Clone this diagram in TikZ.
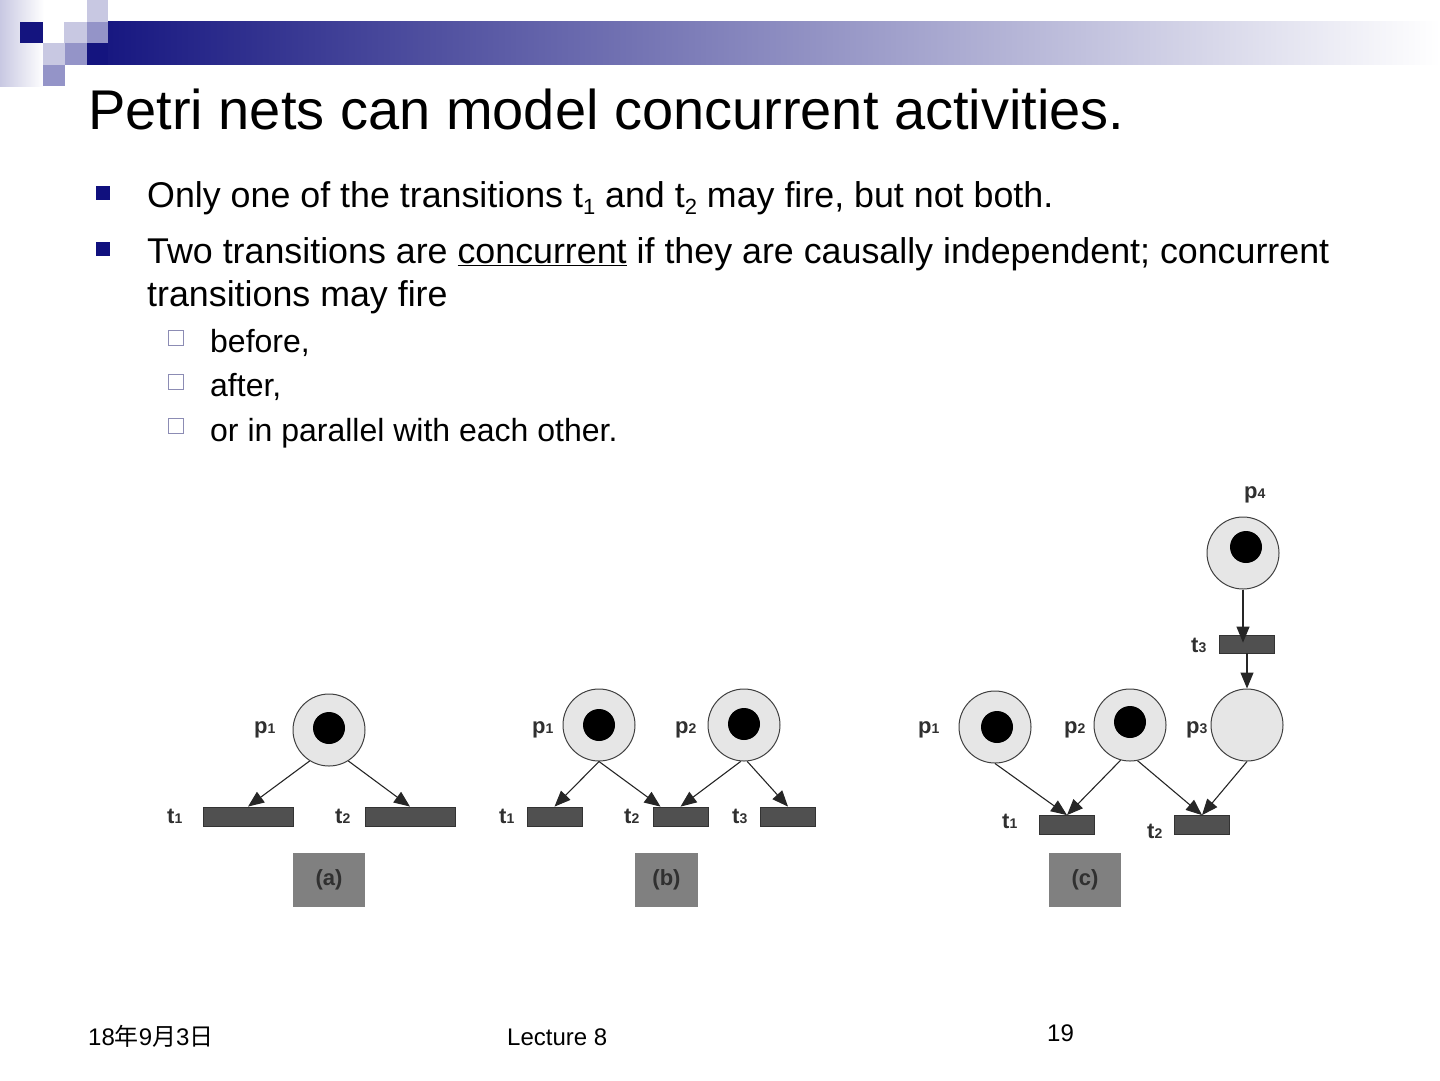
\documentclass[tikz,border=0pt]{standalone}
\usepackage{fontspec}
\setmainfont{Liberation Sans}
\newfontfamily\cjk{Noto Sans CJK SC}
\usetikzlibrary{arrows.meta}
\definecolor{navybar}{HTML}{14147F}
\definecolor{lav}{HTML}{C8C8E2}
\definecolor{lavmid}{HTML}{9494C8}
\definecolor{bulletnavy}{HTML}{10107E}
\definecolor{subbox}{HTML}{8C8CB4}
\definecolor{placefill}{HTML}{E6E6E6}
\definecolor{transfill}{HTML}{505050}
\definecolor{labgray}{HTML}{303030}
\newcommand\lsub[2]{#1{\fontsize{14}{14}\selectfont #2}}
\begin{document}
\begin{tikzpicture}[x=1pt,y=-1pt,
  place/.style={circle,draw=black!75,fill=placefill,line width=1pt,minimum size=72pt,inner sep=0},
  tokn/.style={circle,fill=black,minimum size=32pt,inner sep=0},
  trans/.style={rectangle,draw=black!80,fill=transfill,line width=0.8pt,inner sep=0,minimum height=19pt},
  arc/.style={-{Triangle[length=16pt,width=13pt]},line width=1.1pt,draw=black!85},
  lbl/.style={font=\fontsize{22}{22}\selectfont\bfseries,text=labgray,inner sep=0,anchor=base west},
  capbox/.style={fill=black!50,minimum width=72pt,minimum height=54pt,inner sep=0,font=\fontsize{22}{22}\selectfont\bfseries,text=labgray},
  txt/.style={inner sep=0,anchor=base west},
  mainb/.style={fill=bulletnavy,minimum size=14pt,inner sep=0},
  subb/.style={draw=subbox,line width=1.2pt,minimum size=15pt,inner sep=0},
]
\useasboundingbox (0,0) rectangle (1440,1080);
% header decoration
\shade[left color=lav,right color=white] (0,0) rectangle (44,86);
\shade[left color=navybar,right color=white] (87,21) rectangle (1440,64);
\fill[navybar] (20,22) rectangle (43,43);
\fill[lav] (87,0) rectangle (108,22);
\fill[lav] (64,22) rectangle (87,43);
\fill[lavmid] (87,22) rectangle (108,43);
\fill[lav] (43,43) rectangle (65,65);
\fill[lavmid] (65,43) rectangle (87,65);
\fill[navybar] (87,43) rectangle (108,65);
\fill[lavmid] (43,65) rectangle (65,86);

% title and bullets
\node[txt,font=\fontsize{56}{56}\selectfont] (title) at (88,129) {Petri nets can model concurrent activities.};
\node[mainb] (b1) at (103,193) {};
\node[txt,font=\fontsize{35.8}{36}\selectfont] (l1) at (147,207) {Only one of the transitions t\raisebox{-7pt}{\fontsize{22}{22}\selectfont 1} and t\raisebox{-7pt}{\fontsize{22}{22}\selectfont 2} may fire, but not both.};
\node[mainb] (b2) at (103,249) {};
\node[txt,font=\fontsize{35.8}{36}\selectfont] (l2) at (147,263) {Two transitions are \underline{concurrent} if they are causally independent; concurrent};
\node[txt,font=\fontsize{35.8}{36}\selectfont] (l3) at (147,306) {transitions may fire};
\node[subb] (s1) at (176,338) {};
\node[txt,font=\fontsize{32}{32}\selectfont] (l4) at (210,352) {before,};
\node[subb] (s2) at (176,382) {};
\node[txt,font=\fontsize{32}{32}\selectfont] (l5) at (210,396) {after,};
\node[subb] (s3) at (176,426) {};
\node[txt,font=\fontsize{32}{32}\selectfont] (l6) at (210,441) {or in parallel with each other.};

% (a)
\node[place] (ap1) at (329,730) {};
\node[tokn] (atk) at (329,728) {};
\node[trans,minimum width=90pt] (at1) at (248,816.5) {};
\node[trans,minimum width=90pt] (at2) at (410,816.5) {};
\node[lbl] (apl) at (254,733) {\lsub{p}{1}};
\node[lbl] (at1l) at (167,823) {\lsub{t}{1}};
\node[lbl] (at2l) at (335,823) {\lsub{t}{2}};
\draw[arc] (ap1.-122) -- (at1.north);
\draw[arc] (ap1.-58) -- (at2.north);
\node[capbox] (capa) at (329,880) {(a)};

% (b)
\node[place] (bp1) at (599,725) {};
\node[tokn] (btk1) at (599,725) {};
\node[place] (bp2) at (744,725) {};
\node[tokn] (btk2) at (744,724) {};
\node[trans,minimum width=55pt] (bt1) at (554.5,816.5) {};
\node[trans,minimum width=55pt] (bt2) at (680.5,816.5) {};
\node[trans,minimum width=55pt] (bt3) at (788,816.5) {};
\node[lbl] (bp1l) at (532,733) {\lsub{p}{1}};
\node[lbl] (bp2l) at (675,733) {\lsub{p}{2}};
\node[lbl] (bt1l) at (499,823) {\lsub{t}{1}};
\node[lbl] (bt2l) at (624,823) {\lsub{t}{2}};
\node[lbl] (bt3l) at (732,823) {\lsub{t}{3}};
\draw[arc] (bp1.south) -- (bt1.north);
\draw[arc] (bp1.south) -- ([xshift=-20pt]bt2.north);
\draw[arc] (bp2.-95) -- (bt2.north);
\draw[arc] (bp2.-85) -- (bt3.north);
\node[capbox,minimum width=63pt] (capb) at (666.5,880) {(b)};

% (c)
\node[place] (cp1) at (995,727) {};
\node[tokn] (ctk1) at (997,727) {};
\node[place] (cp2) at (1130,725) {};
\node[tokn] (ctk2) at (1130,722) {};
\node[place] (cp3) at (1247,725) {};
\node[place] (cp4) at (1243,553) {};
\node[tokn] (ctk4) at (1246,547) {};
\node[trans,minimum width=55pt] (ct1) at (1067,825) {};
\node[trans,minimum width=55pt] (ct2) at (1202,825) {};
\node[trans,minimum width=55pt,minimum height=18pt] (ct3) at (1247,644) {};
\node[lbl] (cp1l) at (918,733) {\lsub{p}{1}};
\node[lbl] (cp2l) at (1064,733) {\lsub{p}{2}};
\node[lbl] (cp3l) at (1186,733) {\lsub{p}{3}};
\node[lbl] (cp4l) at (1244,498) {\lsub{p}{4}};
\node[lbl] (ct1l) at (1002,828) {\lsub{t}{1}};
\node[lbl] (ct2l) at (1147,838) {\lsub{t}{2}};
\node[lbl] (ct3l) at (1191,652) {\lsub{t}{3}};
\draw[arc] (cp1.south) -- (ct1.north);
\draw[arc] (cp2.-105) -- (ct1.north);
\draw[arc] (cp2.-78) -- (ct2.north);
\draw[arc] (cp3.south) -- (ct2.north);
\draw[arc] (cp4.south) -- ([xshift=-4pt,yshift=-8pt]ct3.north);
\draw[arc] (ct3.south) -- (cp3.north);
\node[capbox] (capc) at (1085,880) {(c)};

% footer
\node[txt,font=\fontsize{24}{24}\selectfont] (date) at (88,1045) {18{\cjk 年}9{\cjk 月}3{\cjk 日}};
\node[txt,font=\fontsize{24}{24}\selectfont] (lect) at (507,1045) {Lecture 8};
\node[txt,font=\fontsize{24}{24}\selectfont] (pg) at (1047,1041) {19};
\end{tikzpicture}
\end{document}
